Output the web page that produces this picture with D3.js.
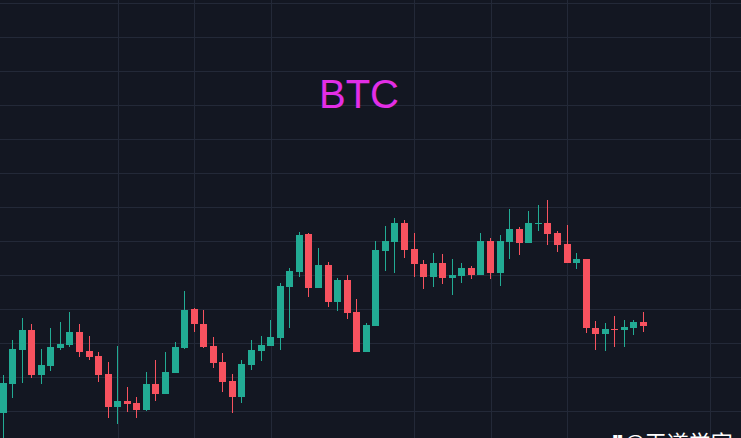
<!DOCTYPE html>
<html>
<head>
<meta charset="utf-8">
<script src="https://cdn.jsdelivr.net/npm/d3@7/dist/d3.min.js"></script>
<style>
html,body{margin:0;padding:0;background:#131722;overflow:hidden;}
svg{display:block;}
</style>
</head>
<body>
<svg id="chart" width="741" height="438"></svg>
<script>
// ---- data ----
const title = "BTC";
const watermark = "@王道学家";
const opens  = [20905,21195,21535,21735,21285,21375,21555,21585,21715,21525,21475,21295,20965,21025,21005,20935,21195,21095,21305,21555,21945,21795,21575,21415,21225,21065,21385,21525,21575,21655,22165,22315,22695,22155,22385,22015,22235,21915,21515,21775,22525,22615,22805,22545,22395,22265,22405,22255,22275,22355,22285,22625,22305,22615,22745,22605,22795,22805,22705,22595,22405,22445,21755,21695,21745,21735,21755,21815];
const highs  = [21285,21635,21855,21795,21545,21755,21815,21915,21795,21675,21515,21415,21575,21165,21065,21315,21435,21515,21615,22125,21955,21935,21665,21505,21295,21435,21635,21675,21835,22205,22355,22715,22705,22555,22415,22255,22285,22045,21805,22625,22775,22855,22835,22705,22435,22505,22495,22445,22405,22375,22705,22655,22685,22945,22765,22925,22985,23035,22725,22785,22505,22445,21825,21805,21875,21835,21835,21915];
const lows   = [20535,21055,21205,21255,21195,21325,21535,21565,21465,21435,21215,20855,20795,20915,20855,20925,21025,21095,21305,21545,21715,21555,21355,21115,20905,21005,21335,21425,21575,21535,21755,22265,22065,22155,21965,21925,21845,21515,21515,21775,22325,22305,22455,22265,22145,22165,22195,22085,22205,22245,22285,22245,22175,22445,22485,22605,22725,22585,22515,22405,22345,21705,21535,21525,21565,21565,21685,21715];
const closes = [21205,21545,21735,21285,21385,21565,21595,21715,21515,21465,21285,20965,21025,20995,20935,21195,21095,21315,21565,21935,21795,21565,21405,21215,21065,21395,21535,21585,21665,22175,22325,22685,22155,22385,22015,22235,21905,21515,21785,22535,22625,22805,22535,22395,22265,22405,22255,22285,22355,22285,22625,22305,22625,22745,22605,22805,22805,22695,22585,22405,22445,21755,21695,21745,21735,21765,21815,21775];
const gridPrices = [25000,24660,24320,23980,23640,23300,22960,22620,22280,21940,21600,21260,20920];
const gridCandleIndex = [12,20,28,43,51,59,74];

// ---- drawing ----
const W = 741, H = 438;
const svg = d3.select("#chart");
const bg = "#131722", gridColor = "#232938";
const upColor = "#22ab94", downColor = "#f7525f";

svg.append("rect").attr("width", W).attr("height", H).attr("fill", bg);

const x = d3.scaleLinear().domain([0, opens.length - 1]).range([3, 643.5]);
const y = d3.scaleLinear().domain([20920, 25000]).range([411.5, 3.5]);

const candles = opens.map((o, i) => ({i, o, h: highs[i], l: lows[i], c: closes[i]}));

// grid
const g = svg.append("g");
g.selectAll("line.h").data(gridPrices).join("line")
  .attr("x1", 0).attr("x2", W)
  .attr("y1", d => Math.round(y(d) - 0.5) + 0.5)
  .attr("y2", d => Math.round(y(d) - 0.5) + 0.5)
  .attr("stroke", gridColor).attr("stroke-width", 1);
g.selectAll("line.v").data(gridCandleIndex).join("line")
  .attr("x1", d => Math.round(x(d)) + 0.5)
  .attr("x2", d => Math.round(x(d)) + 0.5)
  .attr("y1", 0).attr("y2", H)
  .attr("stroke", gridColor).attr("stroke-width", 1);

// title
svg.append("text").attr("x", 359).attr("y", 108)
  .attr("text-anchor", "middle")
  .attr("font-family", "Liberation Sans, Arial, sans-serif")
  .attr("font-size", 40)
  .attr("fill", "#e22ee6")
  .text(title);

// candles
const bw = 7;
const cg = svg.append("g");
const sel = cg.selectAll("g.c").data(candles).join("g");
sel.append("line")
  .attr("x1", d => Math.round(x(d.i) - bw / 2) + 3.5)
  .attr("x2", d => Math.round(x(d.i) - bw / 2) + 3.5)
  .attr("y1", d => y(d.h)).attr("y2", d => y(d.l))
  .attr("stroke", d => d.c >= d.o ? upColor : downColor)
  .attr("stroke-width", 1);
sel.append("rect")
  .attr("x", d => Math.round(x(d.i) - bw / 2))
  .attr("width", bw)
  .attr("y", d => y(Math.max(d.o, d.c)))
  .attr("height", d => Math.max(1, Math.abs(y(d.o) - y(d.c))))
  .attr("fill", d => d.c >= d.o ? upColor : downColor);

// watermark (cut by the bottom edge, as in the reference)
svg.append("text").attr("x", 612).attr("y", 451)
  .attr("font-family", "Noto Sans CJK SC, sans-serif")
  .attr("font-size", 22)
  .attr("fill", "#ffffff")
  .text("❞" + watermark);
</script>
</body>
</html>
